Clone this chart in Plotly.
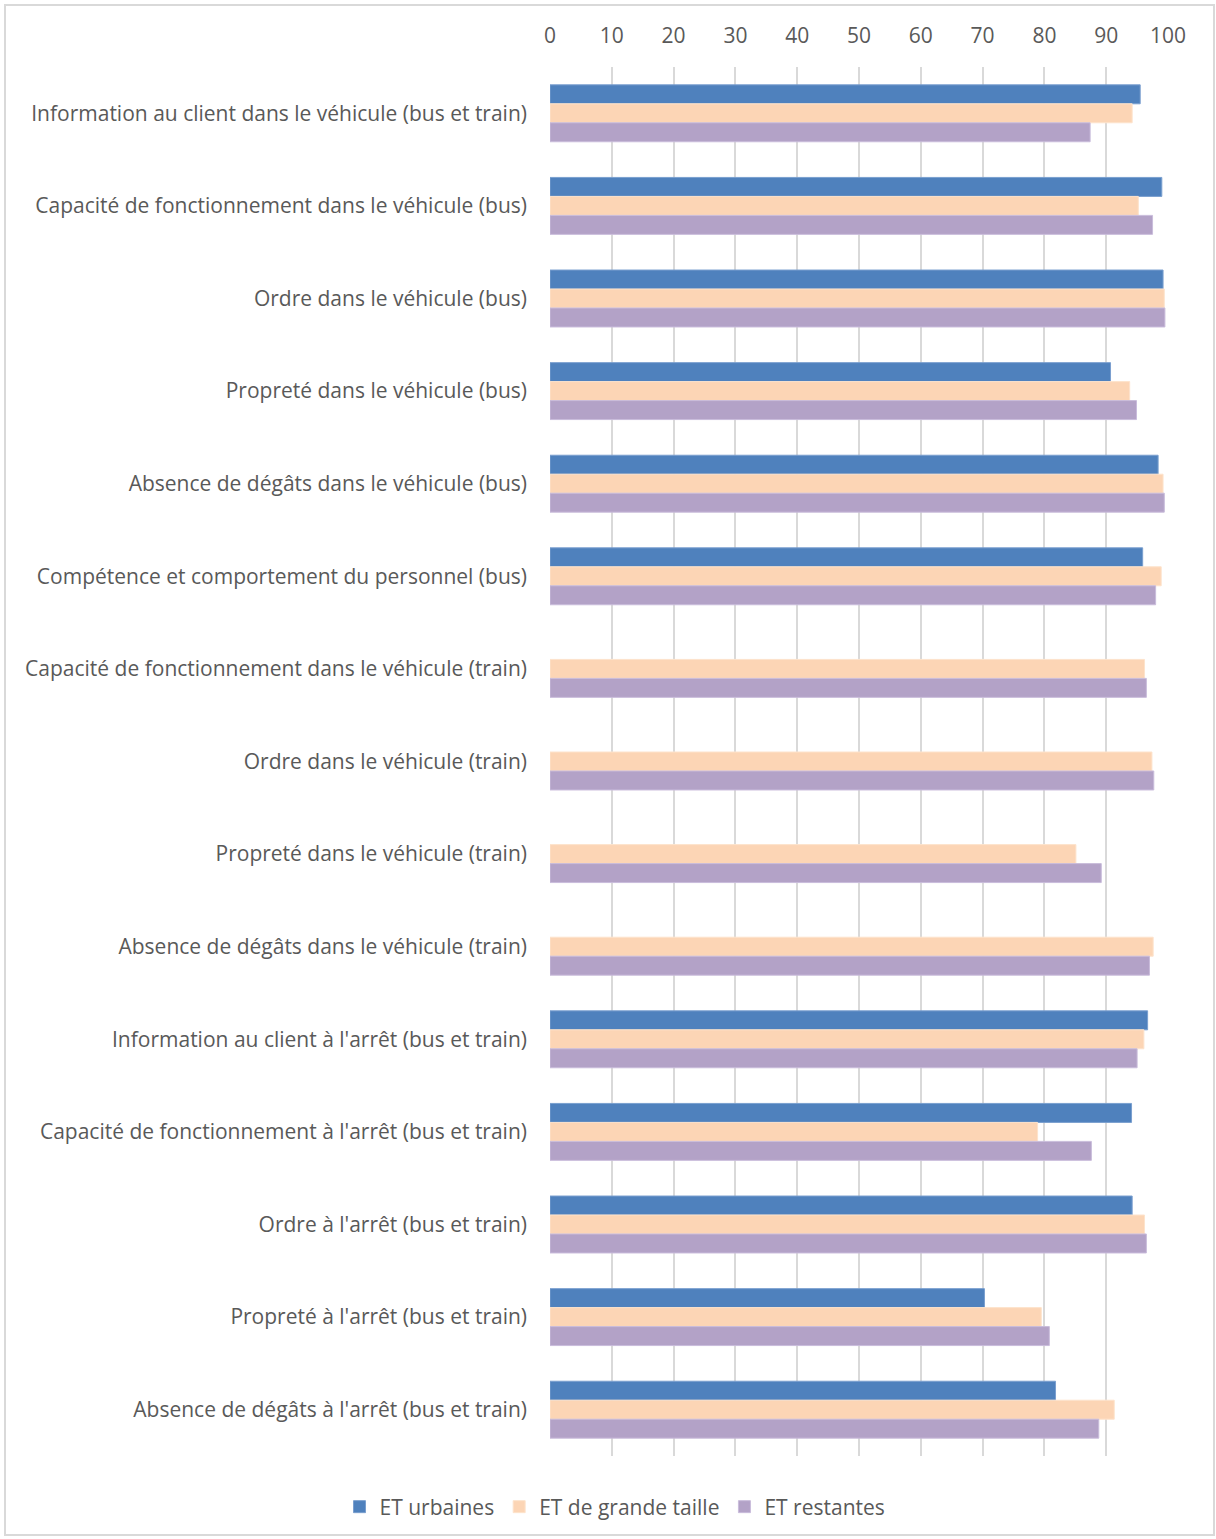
import plotly.graph_objects as go

categories = [
    "Information au client dans le véhicule (bus et train)",
    "Capacité de fonctionnement dans le véhicule (bus)",
    "Ordre dans le véhicule (bus)",
    "Propreté dans le véhicule (bus)",
    "Absence de dégâts dans le véhicule (bus)",
    "Compétence et comportement du personnel (bus)",
    "Capacité de fonctionnement dans le véhicule (train)",
    "Ordre dans le véhicule (train)",
    "Propreté dans le véhicule (train)",
    "Absence de dégâts dans le véhicule (train)",
    "Information au client à l'arrêt (bus et train)",
    "Capacité de fonctionnement à l'arrêt (bus et train)",
    "Ordre à l'arrêt (bus et train)",
    "Propreté à l'arrêt (bus et train)",
    "Absence de dégâts à l'arrêt (bus et train)",
]

et_urbaines = [95.5, 99.0, 99.2, 90.7, 98.4, 95.9, None, None, None, None, 96.7, 94.1, 94.2, 70.3, 81.8]
et_grande_taille = [94.2, 95.2, 99.4, 93.8, 99.2, 98.9, 96.2, 97.4, 85.1, 97.6, 96.1, 78.9, 96.2, 79.5, 91.3]
et_restantes = [87.4, 97.5, 99.5, 94.9, 99.4, 98.0, 96.5, 97.7, 89.2, 97.0, 95.0, 87.6, 96.5, 80.8, 88.8]

series_names = ["ET urbaines", "ET de grande taille", "ET restantes"]
colors = ["#4f81bd", "#fcd5b5", "#b3a2c7"]
edge_colors = ["#7a9fcf", "#fde3cc", "#c9bcdb"]

x_ticks = list(range(0, 101, 10))

FONT = "Open Sans"
GRAY = "#595959"
FS = 21

fig = go.Figure()
for name, vals, c, ec in zip(series_names, [et_urbaines, et_grande_taille, et_restantes], colors, edge_colors):
    fig.add_trace(go.Bar(
        y=categories, x=vals, name=name, orientation="h",
        marker=dict(color=c, line=dict(color=ec, width=1)),
    ))

W, H = 1216, 1539
L, R, T, B = 550, 48, 67, 83
pw, ph = W - L - R, H - T - B

def px_x(p):
    return (p - L) / pw

def px_y(p):
    return (H - B - p) / ph

fig.update_layout(
    width=W, height=H,
    margin=dict(l=L, r=R, t=T, b=B, pad=0),
    paper_bgcolor="white", plot_bgcolor="white",
    barmode="group", bargap=0.385, bargroupgap=0,
    font=dict(family=FONT, size=FS, color=GRAY),
    xaxis=dict(
        side="top", range=[0, 100], tickvals=x_ticks,
        showgrid=True, gridcolor="#d9d9d9", gridwidth=2,
        zeroline=False, showline=False, ticks="",
        ticklabelstandoff=19,
        tickfont=dict(family=FONT, size=FS, color=GRAY),
        fixedrange=True,
    ),
    yaxis=dict(
        autorange="reversed", showgrid=False, zeroline=False,
        showline=False, ticks="", ticklabelstandoff=22,
        tickfont=dict(family=FONT, size=FS, color=GRAY),
    ),
    legend=dict(
        orientation="h", x=px_x(615), xanchor="center",
        y=px_y(1507), yanchor="middle",
        font=dict(family=FONT, size=FS, color=GRAY),
        itemwidth=30, traceorder="normal",
    ),
    shapes=[dict(
        type="rect", xref="paper", yref="paper",
        x0=px_x(5), x1=px_x(1214), y0=px_y(1535), y1=px_y(5),
        line=dict(color="#d9d9d9", width=2), fillcolor="rgba(0,0,0,0)",
        layer="below",
    )],
)

fig.write_html("out.html")
